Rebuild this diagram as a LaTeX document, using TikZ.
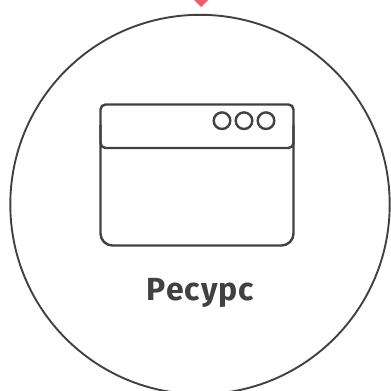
\documentclass[tikz,border=0pt]{standalone}
\usepackage{fontspec}
\setmainfont{Fira Sans}[LetterSpace=3]
\definecolor{ink}{HTML}{414042}
\definecolor{pink}{HTML}{F15A6A}
\tikzset{
  outline/.style={draw=ink,line width=2.4pt},
  ring/.style={draw=ink,line width=1.9pt},
  label text/.style={text=ink,font=\fontsize{32}{34}\selectfont\bfseries,inner sep=0pt,anchor=base}
}
\begin{document}
\begin{tikzpicture}[x=1pt,y=-1pt]
\useasboundingbox (0,0) rectangle (391,391);
\clip (0,0) rectangle (391,391);
\fill[pink] (194,0) -- (201,7) -- (208,0) -- cycle;
\draw[ring] (200,204.5) circle[radius=189.7];
\draw[outline,rounded corners=12pt] (100.5,125) -- (100.5,245.5) -- (293.5,245.5) -- (293.5,125);
\draw[outline,rounded corners=5pt] (100.5,148) rectangle (293.5,104.5);
\draw[outline] (222,120.7) circle[radius=8.3];
\draw[outline] (244,120.7) circle[radius=8.3];
\draw[outline] (266,120.7) circle[radius=8.3];
\node[label text] (title) at (200.5,300.5) {Ресурс};
\end{tikzpicture}
\end{document}
